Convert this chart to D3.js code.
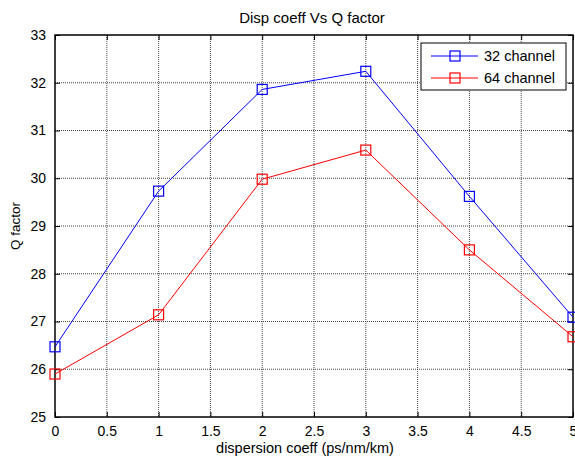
<!DOCTYPE html>
<html><head><meta charset="utf-8">
<script src="https://cdn.jsdelivr.net/npm/d3@7"></script>
<style>body{margin:0;background:#fff}svg{display:block}text{font-family:"Liberation Sans",Arial,sans-serif}</style>
</head><body><svg id="c" width="575" height="457"></svg>
<script>
const xValues = [0, 1, 2, 3, 4, 5];
const series32 = [26.47, 29.73, 31.86, 32.24, 29.62, 27.09];
const series64 = [25.9, 27.14, 29.98, 30.59, 28.5, 26.68];
const seriesNames = ["32 channel", "64 channel"];
const seriesColors = ["#0000ff", "#ff0000"];
const xTicks = [0, 0.5, 1, 1.5, 2, 2.5, 3, 3.5, 4, 4.5, 5];
const yTicks = [25, 26, 27, 28, 29, 30, 31, 32, 33];
const titleText = "Disp coeff Vs Q factor";
const xLabelText = "dispersion coeff (ps/nm/km)";
const yLabelText = "Q factor";

const svg = d3.select("#c");
const L = 55, R = 573, T = 35, B = 417;
const x = d3.scaleLinear().domain([0, 5]).range([L, R]);
const y = d3.scaleLinear().domain([25, 33]).range([B, T]);

// grid
const g = svg.append("g");
g.selectAll(".gx").data(xTicks.slice(1, -1)).enter().append("line")
  .attr("x1", d => x(d)).attr("x2", d => x(d)).attr("y1", T).attr("y2", B)
  .attr("stroke", "#444").attr("stroke-width", 1).attr("stroke-dasharray", "1,1");
g.selectAll(".gy").data(yTicks.slice(1, -1)).enter().append("line")
  .attr("y1", d => y(d)).attr("y2", d => y(d)).attr("x1", L).attr("x2", R)
  .attr("stroke", "#444").attr("stroke-width", 1).attr("stroke-dasharray", "1,1");

// axes
const fs = 14;
const ax = svg.append("g").attr("transform", `translate(0,${B})`)
  .call(d3.axisBottom(x).tickValues(xTicks).tickSizeInner(-5).tickSizeOuter(0).tickPadding(9).tickFormat(d3.format("")));
const axT = svg.append("g").attr("transform", `translate(0,${T})`)
  .call(d3.axisTop(x).tickValues(xTicks).tickSizeInner(-5).tickSizeOuter(0).tickFormat(""));
const ay = svg.append("g").attr("transform", `translate(${L},0)`)
  .call(d3.axisLeft(y).tickValues(yTicks).tickSizeInner(-5).tickSizeOuter(0).tickPadding(9).tickFormat(d3.format("")));
const ayR = svg.append("g").attr("transform", `translate(${R},0)`)
  .call(d3.axisRight(y).tickValues(yTicks).tickSizeInner(-5).tickSizeOuter(0).tickFormat(""));
[ax, axT, ay, ayR].forEach(a => {
  a.select(".domain").remove();
  a.selectAll("line").attr("stroke", "#000");
  a.selectAll("text").attr("font-size", fs).attr("fill", "#000").style("font-family", "Liberation Sans, Arial, sans-serif");
});
svg.append("rect").attr("x", L).attr("y", T).attr("width", R - L).attr("height", B - T)
  .attr("fill", "none").attr("stroke", "#000").attr("stroke-width", 1.5);

// series
const line = d3.line().x((d, i) => x(xValues[i])).y(d => y(d));
[series32, series64].forEach((s, k) => {
  svg.append("path").datum(s).attr("d", line).attr("fill", "none")
    .attr("stroke", seriesColors[k]).attr("stroke-width", 1);
  svg.selectAll(".m" + k).data(s).enter().append("rect")
    .attr("x", (d, i) => x(xValues[i]) - 5).attr("y", d => y(d) - 5)
    .attr("width", 10).attr("height", 10).attr("fill", "none")
    .attr("stroke", seriesColors[k]).attr("stroke-width", 1.2);
});

// labels
svg.append("text").attr("x", 312).attr("y", 23).attr("text-anchor", "middle")
  .attr("font-size", 15).text(titleText);
svg.append("text").attr("x", 305).attr("y", 453).attr("text-anchor", "middle")
  .attr("font-size", 14.5).text(xLabelText);
svg.append("text").attr("transform", `translate(20,${(T + B) / 2}) rotate(-90)`)
  .attr("text-anchor", "middle").attr("font-size", 13.5).text(yLabelText);

// legend
const lg = svg.append("g");
lg.append("rect").attr("x", 421).attr("y", 43).attr("width", 145).attr("height", 47)
  .attr("fill", "#fff").attr("stroke", "#000").attr("stroke-width", 1);
seriesNames.forEach((n, k) => {
  const yy = 56 + k * 22;
  lg.append("line").attr("x1", 431).attr("x2", 478).attr("y1", yy).attr("y2", yy)
    .attr("stroke", seriesColors[k]).attr("stroke-width", 1);
  lg.append("rect").attr("x", 450).attr("y", yy - 5).attr("width", 10).attr("height", 10)
    .attr("fill", "none").attr("stroke", seriesColors[k]).attr("stroke-width", 1.2);
  lg.append("text").attr("x", 484).attr("y", yy + 5).attr("font-size", 14.5).text(n);
});
</script></body></html>
